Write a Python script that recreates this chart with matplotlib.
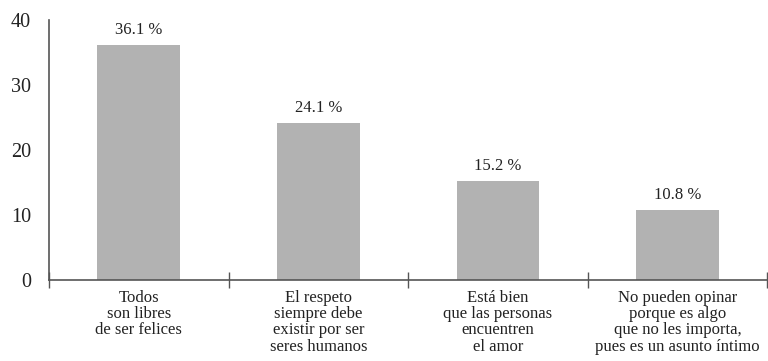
import matplotlib
matplotlib.use('Agg')
import matplotlib.pyplot as plt
import numpy as np

categories = [
    'Todos\nson libres\nde ser felices',
    'El respeto\nsiempre debe\nexistir por ser\nseres humanos',
    'Está bien\nque las personas\nencuentren\nel amor',
    'No pueden opinar\nporque es algo\nque no les importa,\npues es un asunto íntimo',
]
values = [36.1, 24.1, 15.2, 10.8]
y_ticks = [0, 10, 20, 30, 40]

plt.rcParams['font.family'] = ['Liberation Serif', 'DejaVu Serif']

fig = plt.figure(figsize=(7.68, 3.61), dpi=100)
ax = fig.add_axes([0.0638, 0.2244, 0.935, 0.7202])

x = np.arange(len(categories))
bars = ax.bar(x, values, width=0.46, color='#b2b2b2', zorder=2)

# value labels above each bar
for xi, v in zip(x, values):
    ax.annotate(f'{v} %', (xi, v), xytext=(0, 5), textcoords='offset points',
                ha='center', va='bottom', fontsize=12, color='#222222')

ax.set_xlim(-0.5, len(categories) - 0.5)
ax.set_ylim(0, 40)

ax.set_xticks(x)
ax.set_xticklabels(categories, fontsize=12, color='#222222', linespacing=1.03)
ax.tick_params(axis='x', which='major', length=0, pad=7)
# separators between categories
ax.set_xticks(np.arange(-0.5, len(categories)), minor=True)
ax.tick_params(axis='x', which='minor', direction='inout', length=12,
               width=1, color='#555555')

ax.set_yticks(y_ticks)
ax.set_yticklabels([str(t) for t in y_ticks], fontsize=14.5, color='#222222')
ax.tick_params(axis='y', which='major', length=0, pad=13)
ax.set_yticks([0, 40], minor=True)
ax.tick_params(axis='y', which='minor', direction='out', length=6,
               width=1.2, color='#555555')

for side in ['top', 'right']:
    ax.spines[side].set_visible(False)
for side in ['left', 'bottom']:
    ax.spines[side].set_color('#555555')
    ax.spines[side].set_linewidth(1.2)

fig.savefig('out.png', dpi=100)
